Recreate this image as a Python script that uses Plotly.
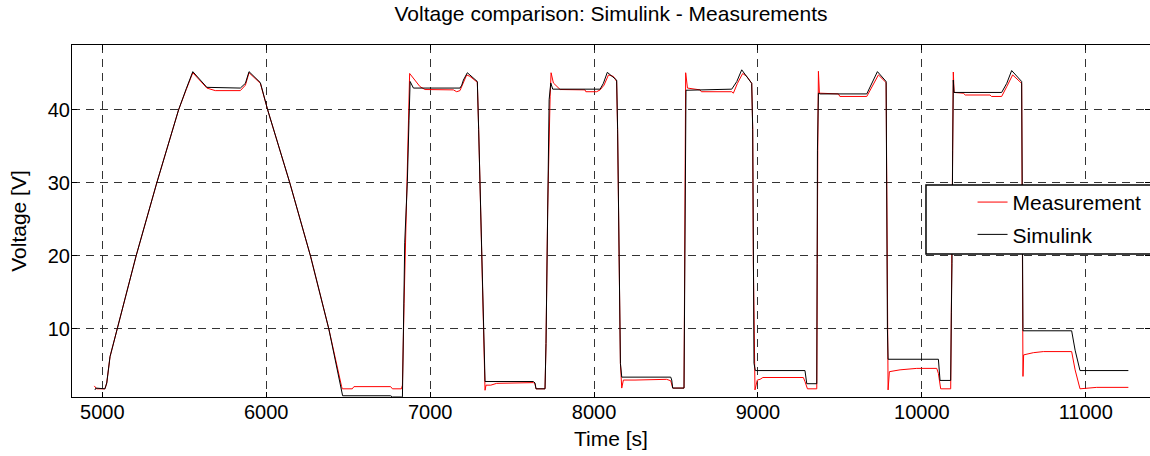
import plotly.graph_objects as go

# ---- data ----
meas_time = [4951, 4965, 5016, 5027, 5047, 5092, 5206, 5332, 5465, 5512, 5552, 5638, 5689, 5842, 5873,
             5895, 5964, 6009, 6144, 6270, 6382, 6460, 6464, 6525, 6535, 6759, 6770, 6825, 6831, 6841,
             6851, 6861, 6869, 6875, 6938, 6969, 7142, 7162, 7182, 7203, 7223, 7243, 7288, 7296, 7304,
             7315, 7322, 7335, 7341, 7370, 7406, 7630, 7640, 7646, 7701, 7707, 7717, 7726, 7732, 7738,
             7752, 7793, 7945, 7950, 8016, 8037, 8061, 8088, 8118, 8138, 8144, 8153, 8161, 8169, 8179,
             8250, 8443, 8468, 8480, 8549, 8553, 8557, 8559, 8570, 8647, 8655, 8840, 8850, 8875, 8907,
             8932, 8962, 8968, 8972, 8978, 8982, 8996, 9013, 9030, 9277, 9287, 9302, 9359, 9361, 9365,
             9369, 9375, 9491, 9500, 9664, 9700, 9735, 9782, 9786, 9790, 9794, 9802, 9867, 9969, 10091,
             10101, 10115, 10176, 10180, 10184, 10188, 10192, 10197, 10253, 10265, 10416, 10425, 10487,
             10518, 10554, 10609, 10613, 10617, 10621, 10680, 10741, 10914, 10935, 10965, 11067, 11260]
meas_volt = [2.2, 1.8, 1.8, 2.6, 6.2, 10.0, 20.0, 30.0, 40.0, 42.8, 45.1, 43.0, 42.65, 42.65, 43.4,
             45.1, 43.65, 40.0, 30.0, 20.0, 10.0, 2.1, 1.8, 1.8, 2.1, 2.1, 1.8, 1.8, 2.3, 13.5,
             22.2, 30.4, 38.6, 45.0, 43.2, 42.8, 42.75, 42.5, 42.65, 43.7, 44.8, 44.6, 43.8, 37.5, 29.5,
             21.3, 12.6, 1.6, 2.3, 2.3, 2.55, 2.65, 2.45, 1.8, 1.8, 8.0, 26.3, 37.3, 41.8, 45.1,
             43.7, 42.8, 42.75, 42.5, 42.5, 42.75, 43.4, 44.8, 44.6, 43.9, 36.8, 19.9, 5.3, 1.9, 3.0,
             3.0, 3.1, 2.9, 1.9, 1.9, 19.0, 35.9, 45.1, 43.0, 42.75, 42.5, 42.5, 42.3, 43.65, 45.0,
             44.6, 43.65, 37.7, 19.0, 5.3, 1.65, 3.0, 3.1, 3.35, 3.35, 2.8, 1.8, 1.8, 19.0, 34.5,
             45.3, 42.3, 42.2, 41.85, 41.85, 43.4, 44.8, 43.75, 22.7, 9.9, 1.65, 4.15, 4.4, 4.6, 4.6,
             3.9, 1.8, 1.8, 12.2, 19.0, 34.5, 45.2, 42.4, 42.3, 42.05, 42.05, 41.85, 41.85,
             43.2, 44.8, 43.65, 19.5, 3.5, 6.45, 6.75, 6.9, 6.9, 4.4, 1.8, 2.0, 2.0]

sim_time = [4955, 4961, 5016, 5027, 5047, 5092, 5206, 5332, 5465, 5512, 5552, 5638, 5842, 5873, 5895,
            5964, 6009, 6144, 6270, 6382, 6460, 6466, 6759, 6770, 6825, 6831, 6845, 6861, 6871, 6878,
            6898, 7182, 7193, 7203, 7227, 7288, 7296, 7304, 7315, 7321, 7329, 7335, 7630, 7640, 7646,
            7701, 7707, 7715, 7726, 7736, 7748, 8037, 8057, 8081, 8138, 8144, 8153, 8161, 8169, 8468,
            8474, 8480, 8549, 8553, 8557, 8561, 8840, 8871, 8901, 8962, 8968, 8972, 8976, 8984, 9287,
            9298, 9359, 9361, 9363, 9369, 9379, 9664, 9694, 9729, 9782, 9786, 9790, 9794, 10101, 10111,
            10176, 10180, 10184, 10188, 10192, 10196, 10487, 10518, 10548, 10609, 10613, 10617, 10914,
            10935, 10965, 11260]
sim_volt = [1.65, 1.9, 1.8, 2.6, 6.2, 10.0, 20.0, 30.0, 40.0, 42.9, 45.25, 43.1, 43.0, 43.65, 45.25,
            43.75, 40.0, 30.0, 20.0, 10.0, 1.9, 0.85, 0.85, 0.68, 0.68, 0.7, 21.8, 30.2, 38.6, 43.9,
            43.0, 43.0, 43.4, 44.1, 45.1, 43.9, 37.3, 30.0, 22.2, 13.1, 5.3, 2.8, 2.8, 2.6, 1.8,
            1.8, 8.0, 26.3, 41.4, 43.7, 42.85, 42.85, 43.65, 45.15, 44.1, 37.3, 19.9, 5.3, 3.4, 3.4,
            3.0, 1.9, 1.9, 19.0, 35.9, 42.7, 42.85, 43.9, 45.5, 43.65, 37.3, 19.0, 5.3, 4.3, 4.3,
            2.5, 2.5, 19.0, 34.5, 42.3, 42.2, 42.2, 43.65, 45.25, 43.9, 22.7, 9.9, 5.85, 5.85, 2.95,
            2.95, 12.2, 19.0, 34.5, 44.1, 42.4, 42.4, 43.65, 45.4, 43.9, 19.5, 9.75, 9.75,
            7.1, 4.3, 4.3]

x_ticks = [5000, 6000, 7000, 8000, 9000, 10000, 11000]
y_ticks = [10, 20, 30, 40]
x_range = [4815, 11392]
y_range = [0.68, 48.9]

FONT = "Liberation Sans, Arial, sans-serif"

fig = go.Figure()
fig.add_trace(go.Scatter(x=meas_time, y=meas_volt, mode="lines", name="Measurement",
                         line=dict(color="#ff0000", width=1), legendgroup="m"))
fig.add_trace(go.Scatter(x=sim_time, y=sim_volt, mode="lines", name="Simulink",
                         line=dict(color="#000000", width=1), legendgroup="s"))

axis_common = dict(showline=True, linecolor="black", linewidth=1, mirror="ticks",
                   ticks="inside", ticklen=5, tickcolor="black", automargin=False,
                   showgrid=True, gridcolor="#333333", gridwidth=1, griddash="8px,6px",
                   zeroline=False, ticklabelstandoff=-3,
                   tickfont=dict(family=FONT, size=20, color="black"))

fig.update_xaxes(range=x_range, tickvals=x_ticks, ticktext=[str(v) for v in x_ticks],
                 title=dict(text="Time [s]", font=dict(family=FONT, size=21, color="black"), standoff=9),
                 **axis_common)
fig.update_yaxes(range=y_range, tickvals=y_ticks, ticktext=[str(v) for v in y_ticks],
                 title=dict(text="Voltage [V]", font=dict(family=FONT, size=21, color="black"), standoff=15),
                 **axis_common)

# legend frame
fig.add_shape(type="rect", xref="paper", yref="paper", x0=0.7922, x1=1.05, y0=0.406, y1=0.602,
              line=dict(color="black", width=1.5), fillcolor="white", layer="above")

fig.update_layout(
    width=1150, height=456,
    margin=dict(l=72, r=0, t=45, b=59, autoexpand=False),
    paper_bgcolor="white", plot_bgcolor="white",
    title=dict(text="Voltage comparison: Simulink - Measurements", x=0.5, xanchor="center",
               xref="paper", y=1 - 14 / 456, yanchor="middle",
               font=dict(family=FONT, size=21, color="black")),
    legend=dict(x=0.8354, xanchor="left", y=0.611, yanchor="top", bgcolor="rgba(0,0,0,0)",
                borderwidth=0, traceorder="grouped", tracegroupgap=2,
                font=dict(family=FONT, size=21, color="black")),
    showlegend=True,
)

fig.write_html("out.html", config={"displayModeBar": False},
               post_script="document.body.style.margin='0';")
